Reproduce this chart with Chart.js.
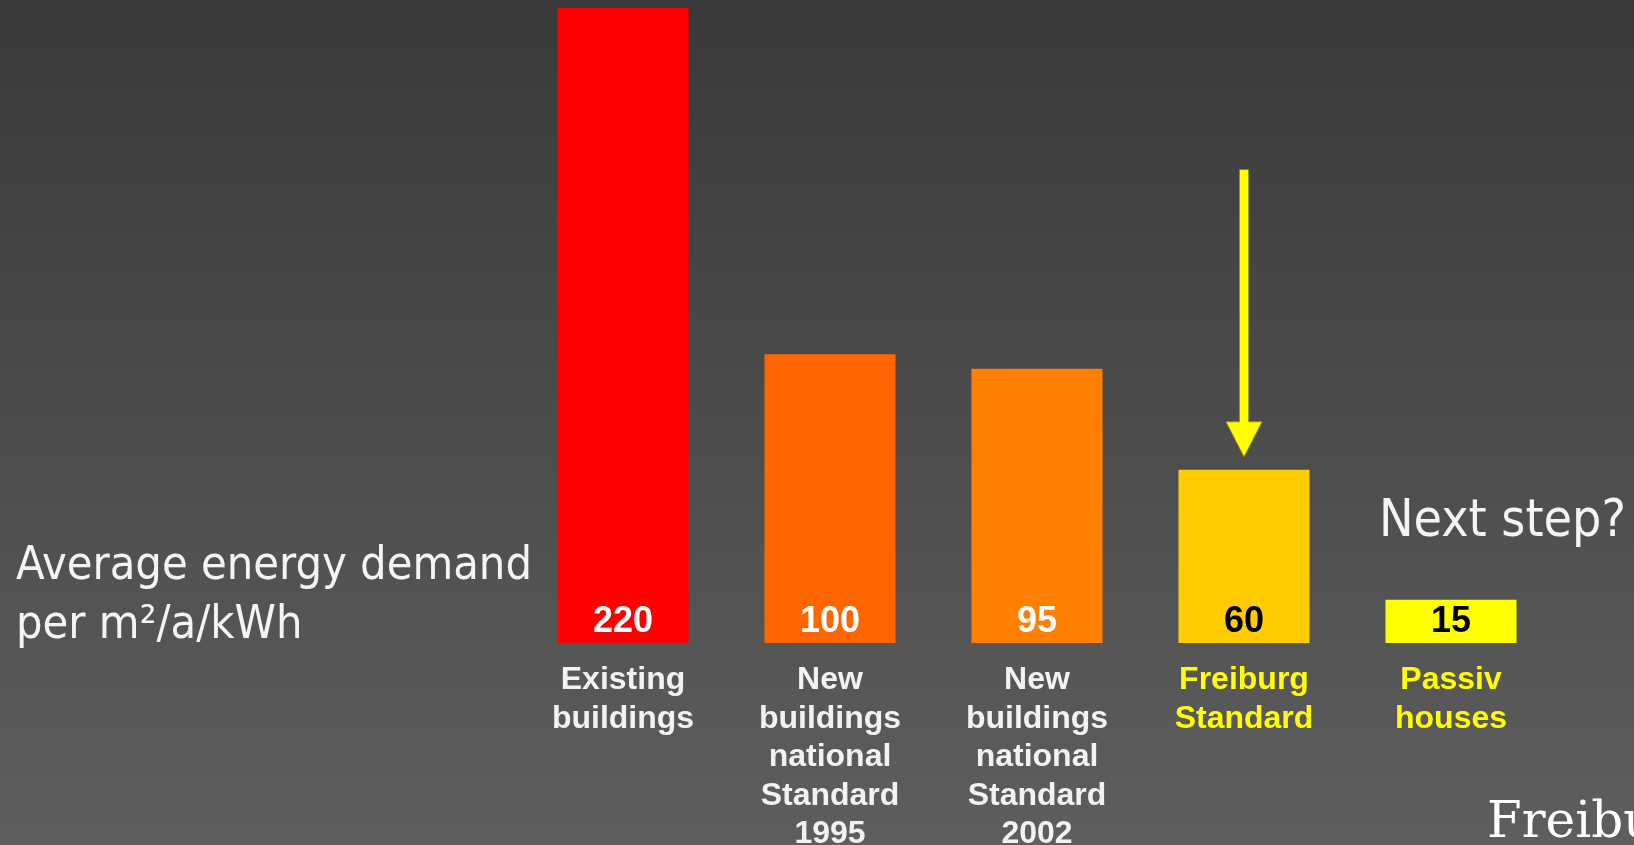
<!DOCTYPE html>
<html><head><meta charset="utf-8">
<script src="https://cdn.jsdelivr.net/npm/chart.js@4.4.1/dist/chart.umd.min.js"></script>
<style>
html,body{margin:0;padding:0;width:1634px;height:845px;overflow:hidden;background:linear-gradient(to bottom,#393939 0%,#5e5e5e 100%);}
canvas{display:block;}
</style></head><body>
<canvas id="c" width="1634" height="845"></canvas>
<script>
// ---- data ----
const categories = [
  ["Existing","buildings"],
  ["New","buildings","national","Standard","1995"],
  ["New","buildings","national","Standard","2002"],
  ["Freiburg","Standard"],
  ["Passiv","houses"]
];
const demandValues = [220, 100, 95, 60, 15];
const valueLabels = ["220", "100", "95", "60", "15"];
const barColors = ["#ff0000", "#ff6600", "#ff8000", "#ffcc00", "#ffff00"];
const valueLabelColors = ["#ffffff", "#ffffff", "#ffffff", "#000000", "#000000"];
const tickLabelColors = ["#f2f2f2", "#f2f2f2", "#f2f2f2", "#ffff00", "#ffff00"];
const sideCaption = ["Average energy demand", "per m²/a/kWh"];
const nextStepText = "Next step?";
const logoText = "Freiburg";
const arrowCategoryIndex = 3;
const arrowFromValue = 164;
const arrowToValue = 64.5;

// ---- helpers ----
function drawFitted(ctx, lines, x, baselines, font, targetWidth, color) {
  ctx.save();
  ctx.font = font;
  ctx.fillStyle = color;
  ctx.textAlign = "left";
  ctx.textBaseline = "alphabetic";
  const w = ctx.measureText(lines[0]).width;
  const sx = Math.min(1.15, targetWidth / w);
  lines.forEach((t, i) => {
    ctx.save();
    ctx.translate(x, baselines[i]);
    ctx.scale(sx, 1);
    ctx.fillText(t, 0, 0);
    ctx.restore();
  });
  ctx.restore();
}

const overlayPlugin = {
  id: "overlay",
  afterDatasetsDraw(chart) {
    const ctx = chart.ctx;
    const meta = chart.getDatasetMeta(0);
    const y0 = chart.scales.y.getPixelForValue(0);
    ctx.save();
    ctx.font = "bold 36px 'Liberation Sans', Arial, sans-serif";
    ctx.textAlign = "center";
    ctx.textBaseline = "alphabetic";
    meta.data.forEach((bar, i) => {
      ctx.fillStyle = valueLabelColors[i];
      ctx.fillText(valueLabels[i], bar.x, y0 - 11);
    });
    ctx.restore();

    // arrow
    const ax = chart.scales.x.getPixelForValue(arrowCategoryIndex);
    const ay1 = chart.scales.y.getPixelForValue(arrowFromValue);
    const ay2 = chart.scales.y.getPixelForValue(arrowToValue);
    const shaft = 9, headW = 36, headL = 35;
    ctx.save();
    ctx.beginPath();
    ctx.moveTo(ax - shaft / 2, ay1);
    ctx.lineTo(ax + shaft / 2, ay1);
    ctx.lineTo(ax + shaft / 2, ay2 - headL);
    ctx.lineTo(ax + headW / 2, ay2 - headL);
    ctx.lineTo(ax, ay2);
    ctx.lineTo(ax - headW / 2, ay2 - headL);
    ctx.lineTo(ax - shaft / 2, ay2 - headL);
    ctx.closePath();
    ctx.fillStyle = "#ffff00";
    ctx.fill();
    ctx.lineWidth = 1;
    ctx.strokeStyle = "rgba(150,150,0,0.8)";
    ctx.stroke();
    ctx.restore();
  },
  afterDraw(chart) {
    const ctx = chart.ctx;
    drawFitted(ctx, sideCaption, 16, [579, 638],
      "47px 'DejaVu Sans Condensed', 'DejaVu Sans', sans-serif", 516, "#f4f4f4");
    drawFitted(ctx, [nextStepText], 1379, [536],
      "52px 'DejaVu Sans Condensed', 'DejaVu Sans', sans-serif", 247, "#f4f4f4");
    ctx.save();
    ctx.font = "50px 'DejaVu Serif', serif";
    ctx.fillStyle = "#ffffff";
    ctx.textAlign = "left";
    ctx.textBaseline = "alphabetic";
    ctx.fillText(logoText, 1487, 837);
    ctx.restore();
  }
};

new Chart(document.getElementById("c"), {
  type: "bar",
  data: {
    labels: categories,
    datasets: [{
      data: demandValues,
      backgroundColor: barColors,
      borderWidth: 0,
      categoryPercentage: 1.0,
      barPercentage: 0.633
    }]
  },
  options: {
    responsive: false,
    animation: false,
    events: [],
    layout: { padding: { left: 519.5, right: 79.5, top: 8, bottom: 0 } },
    plugins: { legend: { display: false }, tooltip: { enabled: false }, title: { display: false } },
    scales: {
      y: { display: false, min: 0, max: 220 },
      x: {
        grid: { display: false, drawTicks: false },
        border: { display: false },
        ticks: {
          autoSkip: false,
          maxRotation: 0,
          minRotation: 0,
          padding: 18,
          color: (c) => tickLabelColors[c.index],
          font: { family: "'Liberation Sans', Arial, sans-serif", size: 32, weight: "bold", lineHeight: 1.203 }
        },
        afterFit: (scale) => { scale.height = 202; }
      }
    }
  },
  plugins: [overlayPlugin]
});
</script>
</body></html>
